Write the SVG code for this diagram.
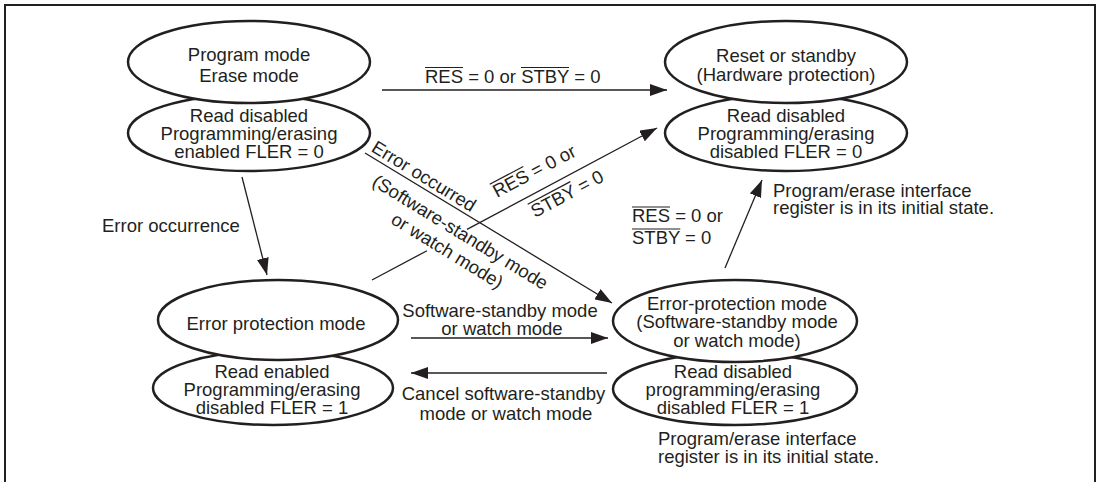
<svg xmlns="http://www.w3.org/2000/svg" width="1102" height="482" viewBox="0 0 1102 482">
<defs>
<marker id="ah" viewBox="0 0 17 12" refX="17" refY="6" markerWidth="17" markerHeight="12" markerUnits="userSpaceOnUse" orient="auto">
<path d="M0,0 L17,6 L0,12 z" fill="#231f20"/>
</marker>
<style>
text{font-family:"Liberation Sans",Arial,sans-serif;font-size:18.5px;fill:#231f20}
.c{text-anchor:middle}
.e{fill:#fff;stroke:#231f20;stroke-width:2.5}
.l{stroke:#231f20;stroke-width:1.3;fill:none}
.a{marker-end:url(#ah)}
.o{stroke:#231f20;stroke-width:1.2}
</style>
</defs>
<rect x="5" y="5" width="1090" height="500" fill="#fff" stroke="#231f20" stroke-width="2"/>

<g id="n1">
<ellipse class="e" cx="249" cy="133" rx="121" ry="38"/>
<ellipse class="e" cx="249" cy="62" rx="121" ry="41"/>
<text class="c" x="249" y="61">Program mode</text>
<text class="c" x="249" y="82">Erase mode</text>
<text class="c" x="249" y="122">Read disabled</text>
<text class="c" x="249" y="140">Programming/erasing</text>
<text class="c" x="249" y="158">enabled FLER = 0</text>
</g>

<g id="n2">
<ellipse class="e" cx="786" cy="133" rx="121" ry="38"/>
<ellipse class="e" cx="786" cy="62" rx="121" ry="41"/>
<text class="c" x="786" y="62">Reset or standby</text>
<text class="c" x="786" y="81">(Hardware protection)</text>
<text class="c" x="786" y="122">Read disabled</text>
<text class="c" x="786" y="140">Programming/erasing</text>
<text class="c" x="786" y="158">disabled FLER = 0</text>
</g>

<g id="n3">
<ellipse class="e" cx="273" cy="388" rx="120" ry="37"/>
<ellipse class="e" cx="278" cy="320" rx="120" ry="40"/>
<text class="c" x="276" y="330">Error protection mode</text>
<text class="c" x="272" y="378">Read enabled</text>
<text class="c" x="272" y="396">Programming/erasing</text>
<text class="c" x="272" y="414">disabled FLER = 1</text>
</g>

<g id="n4">
<ellipse class="e" cx="735" cy="389" rx="122" ry="36"/>
<ellipse class="e" cx="735" cy="321" rx="122" ry="41"/>
<text class="c" x="737" y="310">Error-protection mode</text>
<text class="c" x="737" y="328">(Software-standby mode</text>
<text class="c" x="737" y="347">or watch mode)</text>
<text class="c" x="733" y="378">Read disabled</text>
<text class="c" x="733" y="396">programming/erasing</text>
<text class="c" x="733" y="414">disabled FLER = 1</text>
</g>

<g id="connectors">
<line class="l a" x1="382" y1="90" x2="667" y2="90"/>
<line class="l a" x1="242" y1="177" x2="267" y2="275"/>
<line class="l a" x1="365" y1="153" x2="612" y2="303"/>
<line class="l" x1="372" y1="280" x2="427" y2="250.7"/>
<line class="l a" x1="467" y1="229.4" x2="657" y2="128"/>
<line class="l a" x1="411" y1="338" x2="608" y2="338"/>
<line class="l a" x1="607" y1="373" x2="411" y2="373"/>
<line class="l a" x1="725" y1="268" x2="762" y2="180"/>
</g>

<g id="labels">
<text x="425" y="83">RES = 0 or STBY = 0</text>
<line class="o" x1="425" y1="67.5" x2="463" y2="67.5"/>
<line class="o" x1="521" y1="67.5" x2="569" y2="67.5"/>

<text x="102" y="232">Error occurrence</text>

<g transform="translate(497,198) rotate(-28)">
<text x="0" y="0">RES = 0 or</text>
<line class="o" x1="0" y1="-15.5" x2="38" y2="-15.5"/>
</g>
<g transform="translate(535,218) rotate(-28)">
<text x="0" y="0">STBY = 0</text>
<line class="o" x1="0" y1="-15.5" x2="48.3" y2="-15.5"/>
</g>

<text class="c" transform="translate(420.6,181.6) rotate(31.5)">Error occurred</text>
<text class="c" transform="translate(457,237.5) rotate(31.5)">(Software-standby mode</text>
<text class="c" transform="translate(444,256) rotate(31.5)">or watch mode)</text>

<text x="632" y="222">RES = 0 or</text>
<line class="o" x1="632" y1="207" x2="670" y2="207"/>
<text x="632" y="244">STBY = 0</text>
<line class="o" x1="632" y1="229" x2="680.3" y2="229"/>

<text x="773" y="197">Program/erase interface</text>
<text x="773" y="214">register is in its initial state.</text>

<text class="c" x="500" y="317">Software-standby mode</text>
<text class="c" x="502" y="335">or watch mode</text>
<text class="c" x="503.5" y="400">Cancel software-standby</text>
<text class="c" x="506" y="420">mode or watch mode</text>

<text x="658" y="445">Program/erase interface</text>
<text x="658" y="463">register is in its initial state.</text>
</g>
</svg>
